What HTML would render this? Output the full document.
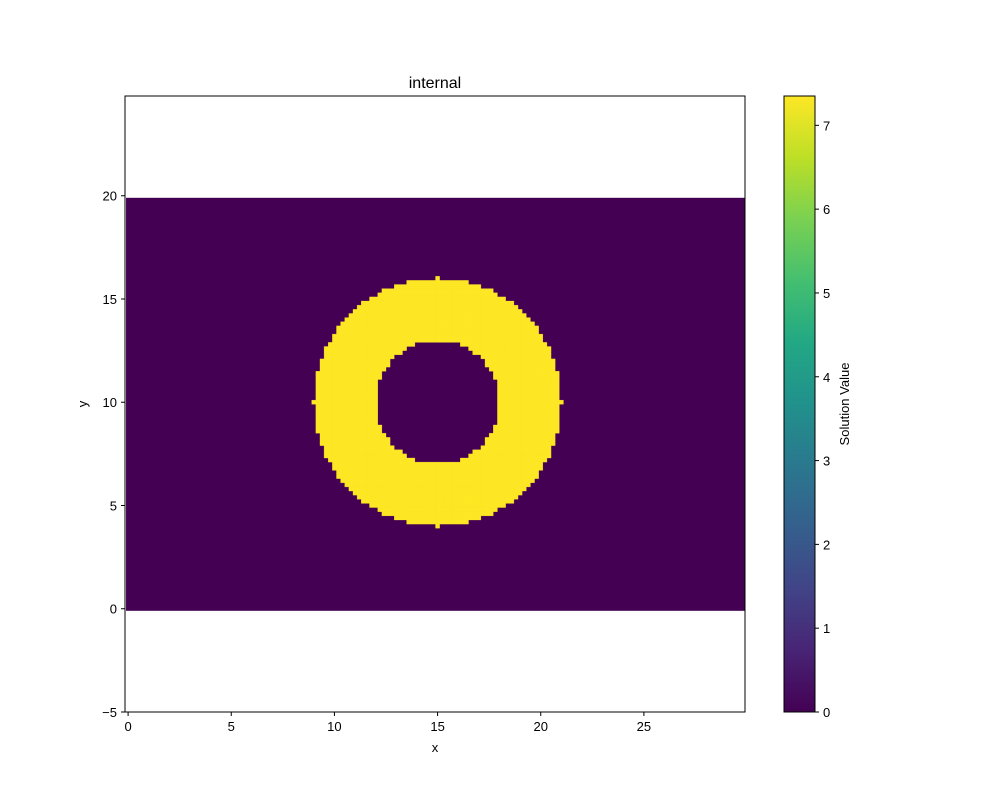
<!DOCTYPE html>
<html><head><meta charset="utf-8"><style>
body{margin:0;background:#fff;}
svg text{font-family:"Liberation Sans","DejaVu Sans",sans-serif;}
</style></head><body>
<svg id="chart" width="1000" height="800" xmlns="http://www.w3.org/2000/svg">
<defs><linearGradient id="vir" x1="0" y1="1" x2="0" y2="0">
<stop offset="0" stop-color="#440154"/><stop offset="0.1" stop-color="#482475"/><stop offset="0.2" stop-color="#414487"/><stop offset="0.3" stop-color="#355f8d"/><stop offset="0.4" stop-color="#2a788e"/><stop offset="0.5" stop-color="#21918c"/><stop offset="0.6" stop-color="#22a884"/><stop offset="0.7" stop-color="#44bf70"/><stop offset="0.8" stop-color="#7ad151"/><stop offset="0.9" stop-color="#bddf26"/><stop offset="1" stop-color="#fde725"/>
</linearGradient></defs>
<text x="435" y="88" font-size="16" text-anchor="middle">internal</text>
<g id="plot"></g>
<rect x="125" y="96" width="620" height="616" fill="none" stroke="#000" stroke-width="1"/>
<g id="xt"></g><g id="yt"></g>
<text x="435" y="752" font-size="13" text-anchor="middle">x</text>
<text x="87" y="404" font-size="13" text-anchor="middle" transform="rotate(-90 87 404)">y</text>
<rect x="784" y="96" width="31" height="616" fill="url(#vir)" stroke="#000" stroke-width="1"/>
<g id="ct"></g>
<text x="849" y="404" font-size="13" text-anchor="middle" transform="rotate(-90 849 404)">Solution Value</text>
</svg>
<script>
const xTicks=[0,5,10,15,20,25];
const yTicks=[-5,0,5,10,15,20];
const cTicks=[0,1,2,3,4,5,6,7];
const gridX=[-0.1,29.9];
const gridY=[-0.1,19.9];
const cellSize=[0.2,0.2];
const ringCenter=[15,10];
const ringRadii=[3,6];
const cellValues=[0,7.35];
const xLim=[-0.15,29.9], yLim=[-5,24.83], cLim=[0,7.35];
const NS="http://www.w3.org/2000/svg";
const X=v=>125+(v-xLim[0])/(xLim[1]-xLim[0])*620;
const Y=v=>712-(v-yLim[0])/(yLim[1]-yLim[0])*616;
const C=v=>712-(v-cLim[0])/(cLim[1]-cLim[0])*616;
function mk(t,a,p){const e=document.createElementNS(NS,t);for(const k in a)e.setAttribute(k,a[k]);p.appendChild(e);return e;}
const plot=document.getElementById('plot');
const bg=mk('rect',{x:X(gridX[0]),y:Y(gridY[1]),width:X(gridX[1])-X(gridX[0]),height:Y(gridY[0])-Y(gridY[1]),fill:'#440154'},plot);


const nx=Math.round((gridX[1]-gridX[0])/cellSize[0]), ny=Math.round((gridY[1]-gridY[0])/cellSize[1]);
let d='';
for(let i=0;i<nx;i++){for(let j=0;j<ny;j++){
 const cx=gridX[0]+(i+0.5)*cellSize[0], cy=gridY[0]+(j+0.5)*cellSize[1];
 const r=Math.hypot(cx-ringCenter[0],cy-ringCenter[1]);
 if(r>=ringRadii[0]-1e-6&&r<=ringRadii[1]+1e-6){
  const x0=X(cx-cellSize[0]/2),x1=X(cx+cellSize[0]/2),y0=Y(cy+cellSize[1]/2),y1=Y(cy-cellSize[1]/2);
  d+=`M${x0.toFixed(2)} ${y0.toFixed(2)}H${x1.toFixed(2)}V${y1.toFixed(2)}H${x0.toFixed(2)}Z`;
 }}}
const ring=mk('path',{d:d,fill:'#fde725',stroke:'#fde725','stroke-width':0.3},plot);


const xt=document.getElementById('xt');
xTicks.forEach(v=>{const x=X(v);
 mk('line',{x1:x,x2:x,y1:712,y2:716,stroke:'#000'},xt);
 const t=mk('text',{x:x,y:731,'font-size':13,'text-anchor':'middle'},xt);t.textContent=v;
 
 });
const yt=document.getElementById('yt');
yTicks.forEach(v=>{const y=Y(v);
 mk('line',{x1:121,x2:125,y1:y,y2:y,stroke:'#000'},yt);
 const t=mk('text',{x:117,y:y+5,'font-size':13,'text-anchor':'end'},yt);t.textContent=v<0?'\u2212'+Math.abs(v):v;
 
 });
const ct=document.getElementById('ct');
cTicks.forEach(v=>{const y=C(v);
 mk('line',{x1:815,x2:819,y1:y,y2:y,stroke:'#000'},ct);
 const t=mk('text',{x:823,y:y+5,'font-size':13},ct);t.textContent=v;
 
 });
</script>
</body></html>
